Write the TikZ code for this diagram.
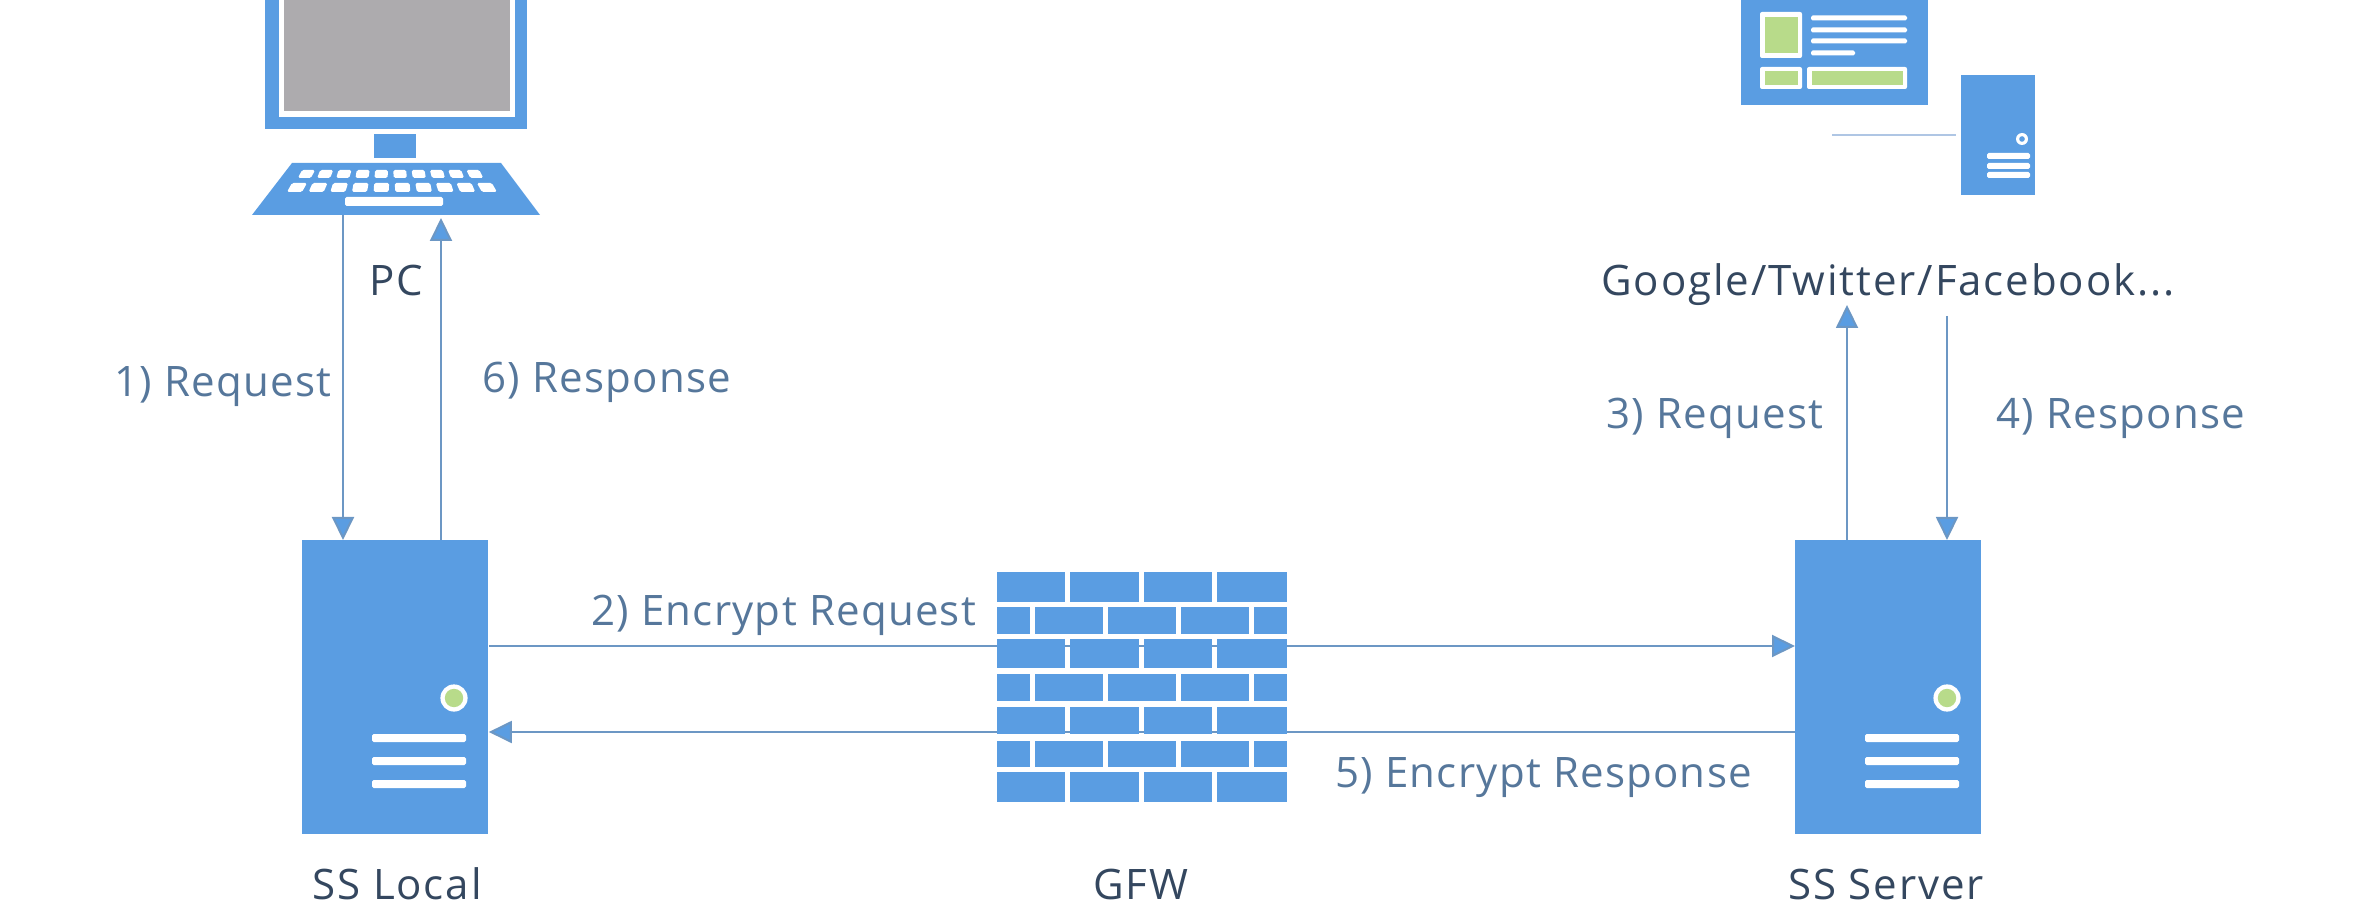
\documentclass[tikz,border=0pt]{standalone}
\usepackage{fontspec}
\setmainfont{Open Sans}
\newfontfamily\lblfont[LetterSpace=3]{Open Sans}
\newfontfamily\namefont[LetterSpace=4.5]{Open Sans}
\usetikzlibrary{arrows.meta}
\definecolor{iconblue}{HTML}{5A9DE2}
\definecolor{screengrey}{HTML}{ADABAE}
\definecolor{leafgreen}{HTML}{B8DB8A}
\definecolor{namecol}{HTML}{34475F}
\definecolor{lblcol}{HTML}{56779B}
\definecolor{linecol}{HTML}{6C97C4}
\definecolor{palelinecol}{HTML}{AFC6E4}
\tikzset{
  x=0.5pt,y=-0.5pt,
  srvbox/.style={fill=iconblue,inner sep=0pt,minimum width=93pt,minimum height=147pt,anchor=north west},
  flow/.style={draw=linecol,line width=1pt,-{Triangle[length=11.5pt,width=11pt,fill=iconblue]}},
  namelbl/.style={text=namecol,font=\namefont\fontsize{21}{25}\selectfont,anchor=base},
  flowlbl/.style={text=lblcol,font=\lblfont\fontsize{21}{25}\selectfont,anchor=base west,inner sep=0pt},
  blue/.style={fill=iconblue},
  whitebar/.style={fill=white,rounded corners=0.8pt},
  brick/.style={fill=iconblue}
}
\begin{document}
\begin{tikzpicture}
\useasboundingbox (0,0) rectangle (2360,924);
% --- PC
\fill[blue] (265,0) rectangle (527,129);
\fill[white] (279,0) rectangle (515,117);
\fill[screengrey] (284,0) rectangle (510,111);
\fill[blue] (374,134) rectangle (416,158);
\fill[blue] (292,163) -- (501,163) -- (540,215) -- (252,215) -- cycle;
\foreach \i in {0,...,9}{
  \pgfmathsetmacro{\cx}{306.5+\i*18.7}
  \pgfmathsetmacro{\sk}{0.0059*(\cx-392)}
  \fill[whitebar] ({\cx-6.5-\sk*4},170) -- ({\cx+6.5-\sk*4},170) -- ({\cx+6.5+\sk*4},178) -- ({\cx-6.5+\sk*4},178) -- cycle;
  \pgfmathsetmacro{\dx}{297+\i*21.1}
  \pgfmathsetmacro{\sl}{0.0059*(\dx-392)}
  \fill[whitebar] ({\dx-7.5-\sl*4.5},183) -- ({\dx+7.5-\sl*4.5},183) -- ({\dx+7.5+\sl*4.5},192) -- ({\dx-7.5+\sl*4.5},192) -- cycle;
}
\fill[whitebar] (345,197) rectangle (443,206);
\coordinate (kbReq) at (343,215);
\coordinate (kbResp) at (441,218);
% --- Website
\fill[blue] (1741,0) rectangle (1928,105);
\fill[white,rounded corners=1pt] (1760,12) rectangle (1802,58);
\fill[leafgreen] (1765,17) rectangle (1798,53);
\foreach \yy/\xe in {18/1907,30/1907,41/1907,53/1855}{
  \fill[whitebar] (1811,{\yy-2.5}) rectangle (\xe,{\yy+2.5});
}
\fill[white,rounded corners=1pt] (1760,67) rectangle (1802,89);
\fill[leafgreen] (1765,71) rectangle (1798,85);
\fill[white,rounded corners=1pt] (1807,67) rectangle (1907,89);
\fill[leafgreen] (1812,71) rectangle (1903,85);
\fill[blue] (1961,75) rectangle (2035,195);
\fill[white] (2022,139) circle[radius=3pt];
\fill[blue] (2022,139) circle[radius=1.4pt];
\foreach \yy in {156,166,175}{
  \fill[whitebar] (1987,{\yy-3}) rectangle (2030,{\yy+3});
}
\coordinate (webA) at (1832,135);
\coordinate (webB) at (1956,135);
\draw[palelinecol,line width=1.3pt] (webA) -- (webB);
\coordinate (gReq) at (1847,305);
\coordinate (gResp) at (1947,316);
% --- Servers
\node[srvbox] (local) at (302,540) {};
\node[srvbox] (server) at (1795,540) {};
\foreach \n in {local,server}{
  \begin{scope}[shift={(\n.north west)}]
    \fill[white] (152,158) circle[radius=6.8pt];
    \fill[leafgreen] (152,158) circle[radius=4.6pt];
    \foreach \yy in {198,221,244}{
      \fill[whitebar] (70,{\yy-4}) rectangle (164,{\yy+4});
    }
  \end{scope}
}
% --- Connectors
\draw[flow] (kbReq) -- (kbReq |- local.north);
\draw[flow] (local.north -| kbResp) -- (kbResp);
\draw[flow] (server.north -| gReq) -- (gReq);
\draw[flow] (gResp) -- (gResp |- server.north);
\coordinate (encY) at (0,646);
\coordinate (decY) at (0,732);
\draw[flow] (local.east |- encY) -- (server.west |- encY);
\draw[flow] (server.west |- decY) -- (local.east |- decY);
% --- Firewall
\foreach \yt/\yb in {572/602,639/668,707/734,772/802}{
  \foreach \xa/\xb in {997/1065,1070/1139,1144/1212,1217/1287}{
    \fill[brick] (\xa,\yt) rectangle (\xb,\yb);
  }
}
\foreach \yt/\yb in {607/634,674/701,741/767}{
  \foreach \xa/\xb in {997/1030,1035/1103,1108/1176,1181/1249,1254/1287}{
    \fill[brick] (\xa,\yt) rectangle (\xb,\yb);
  }
}
% --- Labels
\node[namelbl] (pclbl) at (396,296) {PC};
\node[namelbl] (weblbl) at (1888,296) {Google/Twitter/Facebook...};
\node[namelbl] (locallbl) at (397,899) {SS Local};
\node[namelbl] (gfwlbl) at (1141,899) {GFW};
\node[namelbl] (serverlbl) at (1886,899) {SS Server};
\node[flowlbl] (l1) at (114,397) {1) Request};
\node[flowlbl] (l6) at (482,393) {6) Response};
\node[flowlbl] (l2) at (591,625) {2) Encrypt Request};
\node[flowlbl] (l5) at (1335,787) {5) Encrypt Response};
\node[flowlbl] (l3) at (1606,429) {3) Request};
\node[flowlbl] (l4) at (1996,429) {4) Response};
\end{tikzpicture}
\end{document}
